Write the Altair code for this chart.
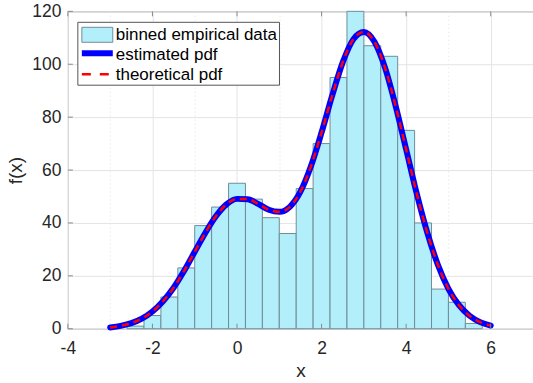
import altair as alt
import pandas as pd

# ---- data ----
bin_left = [-2.6, -2.2, -1.8, -1.4, -1.0, -0.6, -0.2, 0.2, 0.6, 1.0, 1.4,
            1.8, 2.2, 2.6, 3.0, 3.4, 3.8, 4.2, 4.6, 5.0, 5.4]
bin_right = [-2.2, -1.8, -1.4, -1.0, -0.6, -0.2, 0.2, 0.6, 1.0, 1.4, 1.8,
             2.2, 2.6, 3.0, 3.4, 3.8, 4.2, 4.6, 5.0, 5.4, 5.8]
counts = [1, 5, 12, 23, 39, 46, 55, 49, 42, 36, 53,
          70, 95, 120, 107, 103, 75, 40, 15, 10, 2]

curve_x = [-3.0, -2.75, -2.5, -2.25, -2.0, -1.75, -1.5, -1.25, -1.0, -0.75,
           -0.5, -0.25, 0.0, 0.25, 0.5, 0.75, 1.0, 1.25, 1.5, 1.75,
           2.0, 2.25, 2.5, 2.75, 3.0, 3.25, 3.5, 3.75, 4.0, 4.25,
           4.5, 4.75, 5.0, 5.25, 5.5, 5.75, 6.0]
est_pdf = [0.5, 1.1, 2.1, 3.8, 6.5, 10.4, 15.5, 21.9, 29.1, 36.2,
           42.5, 47.0, 49.1, 49.0, 47.2, 45.0, 44.2, 46.1, 51.8, 61.5,
           74.2, 88.1, 100.7, 109.4, 112.2, 108.5, 98.7, 84.3, 67.8, 51.1,
           36.3, 24.2, 15.1, 8.9, 4.9, 2.5, 1.2]
theo_pdf = [0.5, 1.1, 2.1, 3.8, 6.5, 10.4, 15.5, 21.9, 29.1, 36.2,
            42.5, 47.0, 49.1, 49.0, 47.2, 45.0, 44.2, 46.1, 51.8, 61.5,
            74.2, 88.1, 100.7, 109.4, 112.2, 108.5, 98.7, 84.3, 67.8, 51.1,
            36.3, 24.2, 15.1, 8.9, 4.9, 2.5, 1.2]

x_major = [-4, -2, 0, 2, 4, 6]
y_major = [0, 20, 40, 60, 80, 100, 120]
x_grid = [-4 + 0.5 * i for i in range(23)]
y_grid = [5 * i for i in range(25)]
legend_labels = ["binned empirical data", "estimated pdf", "theoretical pdf"]

W, H = 466, 318
FONT = "Liberation Sans"
TXT = "#262626"
AX = "#8a8a8a"

hist_df = pd.DataFrame({"left": bin_left, "right": bin_right, "count": counts})
curve_df = pd.DataFrame({"x": curve_x, "est": est_pdf, "theo": theo_pdf})

xscale = alt.Scale(domain=[-4, 7], nice=False, zero=False)
yscale = alt.Scale(domain=[0, 120], nice=False, zero=False)

xaxis = alt.Axis(
    values=x_grid, title="x", titleFontSize=19, titleFont=FONT, titleColor=TXT,
    titleFontWeight="normal", titlePadding=4,
    labelExpr="datum.value % 2 === 0 ? '' + datum.value : ''",
    labelFont=FONT, labelFontSize=17.5, labelColor=TXT, labelPadding=11,
    ticks=False, domain=False, labelFlush=False,
    grid=True,
    gridDash={"condition": {"test": "datum.value % 2 === 0", "value": []}, "value": [1, 3]},
    gridColor={"condition": {"test": "datum.value % 2 === 0", "value": "#e4e4e4"}, "value": "#e0e0e0"},
)
yaxis = alt.Axis(
    values=y_grid, title="f(x)", titleFontSize=19, titleFont=FONT, titleColor=TXT,
    titleFontWeight="normal", titlePadding=6,
    labelExpr="datum.value % 20 === 0 ? '' + datum.value : ''",
    labelFont=FONT, labelFontSize=17.5, labelColor=TXT, labelPadding=7,
    ticks=False, domain=False,
    grid=True,
    gridDash={"condition": {"test": "datum.value % 20 === 0", "value": []}, "value": [1, 3]},
    gridColor={"condition": {"test": "datum.value % 20 === 0", "value": "#e4e4e4"}, "value": "#e0e0e0"},
)

bars = alt.Chart(hist_df).mark_rect(
    fill="#b3eefb", stroke="#6f8e96", strokeWidth=1
).encode(
    x=alt.X("left:Q", scale=xscale, axis=xaxis),
    x2="right:Q",
    y=alt.Y("count:Q", scale=yscale, axis=yaxis),
    y2=alt.datum(0),
)

est = alt.Chart(curve_df).mark_line(
    color="#0000ff", strokeWidth=6, interpolate="monotone", strokeCap="round"
).encode(x=alt.X("x:Q", scale=xscale), y=alt.Y("est:Q", scale=yscale))

theo = alt.Chart(curve_df).mark_line(
    color="#ff0000", strokeWidth=2.5, strokeDash=[7, 5], interpolate="monotone"
).encode(x=alt.X("x:Q", scale=xscale), y=alt.Y("theo:Q", scale=yscale))

# inward ticks (MATLAB style)
xt_df = pd.DataFrame({"v": x_major})
yt_df = pd.DataFrame({"v": y_major})
xt_bot = alt.Chart(xt_df).mark_rule(color=AX, strokeWidth=1).encode(
    x=alt.X("v:Q", scale=xscale), y=alt.value(H), y2=alt.value(H - 5))
xt_top = alt.Chart(xt_df).mark_rule(color=AX, strokeWidth=1).encode(
    x=alt.X("v:Q", scale=xscale), y=alt.value(0), y2=alt.value(5))
yt_left = alt.Chart(yt_df).mark_rule(color=AX, strokeWidth=1).encode(
    y=alt.Y("v:Q", scale=yscale), x=alt.value(0), x2=alt.value(5))

# legend (drawn manually)
leg_box = alt.Chart(pd.DataFrame({"a": [0]})).mark_rect(
    fill="white", stroke="#555555", strokeWidth=1
).encode(x=alt.value(10), x2=alt.value(212), y=alt.value(11), y2=alt.value(74))
leg_sw = alt.Chart(pd.DataFrame({"a": [0]})).mark_rect(
    fill="#b3eefb", stroke="#6f8e96", strokeWidth=1
).encode(x=alt.value(14), x2=alt.value(45), y=alt.value(16), y2=alt.value(31))
leg_blue = alt.Chart(pd.DataFrame({"a": [0]})).mark_rule(
    color="#0000ff", strokeWidth=6
).encode(x=alt.value(14), x2=alt.value(45), y=alt.value(42))
leg_red = alt.Chart(pd.DataFrame({"a": [0]})).mark_rule(
    color="#ff0000", strokeWidth=2.5, strokeDash=[9, 9]
).encode(x=alt.value(14), x2=alt.value(46), y=alt.value(63))
leg_text = alt.Chart(pd.DataFrame({"t": legend_labels, "yy": [24, 43.5, 64]})).mark_text(
    align="left", baseline="middle", font=FONT, fontSize=17, color="#000000"
).encode(x=alt.value(48), y=alt.Y("yy:Q", scale=None), text="t:N")

chart = alt.layer(
    bars, est, theo, xt_bot, xt_top, yt_left,
    leg_box, leg_sw, leg_blue, leg_red, leg_text
).properties(
    width=W, height=H,
    autosize=alt.AutoSizeParams(type="none"),
    padding={"left": 68, "top": 11, "right": 0, "bottom": 54},
    background="white",
).configure_view(stroke=AX, strokeWidth=1)

chart.save("out.html", embed_options={"renderer": "svg", "actions": False})
